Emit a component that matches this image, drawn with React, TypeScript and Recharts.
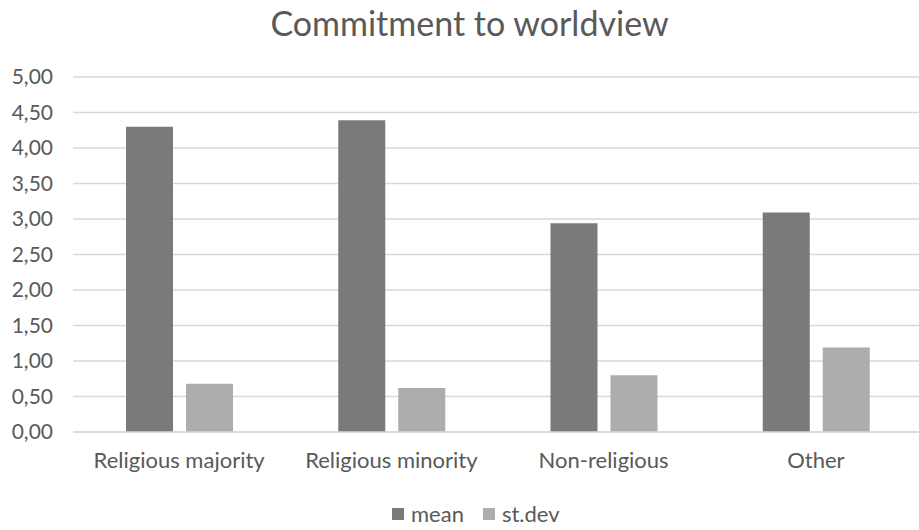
import React from 'react';
import {
  BarChart,
  Bar,
  XAxis,
  YAxis,
  CartesianGrid,
  Legend
} from 'recharts';

const categories = ['Religious majority', 'Religious minority', 'Non-religious', 'Other'];
const meanValues = [4.30, 4.39, 2.94, 3.09];
const stdevValues = [0.68, 0.62, 0.80, 1.19];
const yTicks = [0, 0.5, 1, 1.5, 2, 2.5, 3, 3.5, 4, 4.5, 5];

const FONT = 'Lato, "Open Sans", sans-serif';
const TEXT = '#595959';
const MEAN_COLOR = '#7a7a7a';
const STDEV_COLOR = '#adadad';

const data = categories.map((name, i) => ({
  name,
  mean: meanValues[i],
  stdev: stdevValues[i]
}));

const formatTick = (v: number) => v.toFixed(2).replace('.', ',');

const LegendContent = () => (
  <div style={{ display: 'flex', paddingLeft: 392, gap: 19, fontFamily: FONT, fontSize: 22, color: TEXT, lineHeight: '25px' }}>
    {[
      { label: 'mean', color: MEAN_COLOR },
      { label: 'st.dev', color: STDEV_COLOR }
    ].map((item) => (
      <div key={item.label} style={{ display: 'flex', alignItems: 'center' }}>
        <span style={{ width: 12, height: 12, background: item.color, marginRight: 7, display: 'inline-block' }} />
        <span>{item.label}</span>
      </div>
    ))}
  </div>
);

const App: React.FC = () => {
  return (
    <div style={{ position: 'absolute', left: 0, top: 0, width: 919, height: 530, background: '#fff', overflow: 'hidden' }}>
      <div
        style={{
          position: 'absolute',
          top: 2,
          left: 10,
          width: '100%',
          textAlign: 'center',
          fontFamily: FONT,
          fontSize: 34,
          color: TEXT
        }}
      >
        Commitment to worldview
      </div>
      <BarChart
        width={919}
        height={530}
        data={data}
        margin={{ top: 77, right: -3, left: 1, bottom: 43 }}
        barGap={13}
        barSize={47}
      >
        <CartesianGrid vertical={false} stroke="#d9d9d9" strokeWidth={1.5} />
        <XAxis
          dataKey="name"
          axisLine={{ stroke: '#d9d9d9', strokeWidth: 1.5 }}
          tickLine={false}
          tickSize={0}
          tickMargin={20}
          height={30}
          tick={{ fill: TEXT, fontFamily: FONT, fontSize: 22 }}
        />
        <YAxis
          width={72}
          domain={[0, 5]}
          ticks={yTicks}
          tickFormatter={formatTick}
          axisLine={false}
          tickLine={false}
          tickSize={0}
          tickMargin={20}
          tick={{ fill: TEXT, fontFamily: FONT, fontSize: 21 }}
        />
        <Legend
          verticalAlign="bottom"
          content={<LegendContent />}
          wrapperStyle={{ bottom: 4, left: 0, width: 919 }}
        />
        <Bar dataKey="mean" name="mean" fill={MEAN_COLOR} isAnimationActive={false} />
        <Bar dataKey="stdev" name="st.dev" fill={STDEV_COLOR} isAnimationActive={false} />
      </BarChart>
    </div>
  );
};

export default App;
